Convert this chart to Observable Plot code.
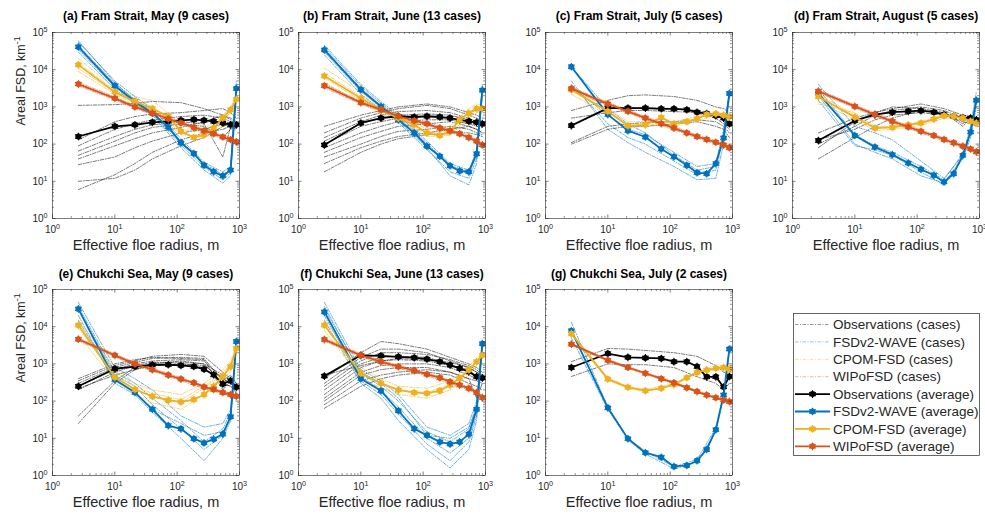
<!DOCTYPE html>
<html><head><meta charset="utf-8">
<script src="https://cdn.jsdelivr.net/npm/d3@7"></script>
<script src="https://cdn.jsdelivr.net/npm/@observablehq/plot@0.6"></script>
<style>
body{margin:0;background:#fff;}
#chart{position:relative;width:985px;height:514px;overflow:hidden;font-family:"Liberation Sans",Arial,sans-serif;}
#chart svg{position:absolute;overflow:visible;}
</style></head><body><div id="chart"></div>
<script>
// ---------- data ----------
const radii = [2.6, 10, 21, 40, 72, 115, 185, 270, 385, 540, 720, 890];
const caseRadii = [2.6, 10, 21, 40, 115, 270, 540, 720, 890];
const panelTitles = ["(a) Fram Strait, May (9 cases)", "(b) Fram Strait, June (13 cases)", "(c) Fram Strait, July (5 cases)", "(d) Fram Strait, August (5 cases)", "(e) Chukchi Sea, May (9 cases)", "(f) Chukchi Sea, June (13 cases)", "(g) Chukchi Sea, July (2 cases)"];
const seriesNames = ["Observations", "FSDv2-WAVE", "CPOM-FSD", "WIPoFSD"];
const xTickValues = [1, 10, 100, 1000];
const yTickValues = [1, 10, 100, 1000, 10000, 100000];
const xLabel = "Effective floe radius, m";
const yLabel = "Areal FSD, km^-1";

const obsAvg = [
  [160, 300, 330, 385, 410, 435, 455, 435, 410, 370, 330, 330],
  [95, 370, 500, 560, 535, 560, 535, 500, 450, 410, 385, 355],
  [315, 930, 930, 930, 890, 890, 840, 720, 660, 580, 500, 355],
  [125, 425, 620, 720, 760, 790, 720, 620, 560, 520, 500, 450],
  [250, 740, 850, 950, 950, 910, 850, 720, 510, 290, 355, 240],
  [470, 1700, 1650, 1550, 1470, 1350, 1150, 930, 760, 620, 455, 420],
  [800, 1900, 1500, 1450, 1400, 1150, 1150, 850, 450, 450, 240, 460]
];
const blueAvg = [
  [41000, 3700, 1400, 680, 290, 108, 56, 27, 18, 14, 20, 3100],
  [34000, 2900, 1030, 450, 200, 88, 47, 26, 19, 18, 55, 2800],
  [12000, 620, 230, 155, 74, 46, 27, 17, 16, 30, 147, 2300],
  [2300, 170, 83, 52, 31, 21, 14.5, 9.6, 16, 50, 210, 1500],
  [30000, 380, 170, 60, 22, 18, 9.8, 7.5, 9.5, 13, 38, 4000],
  [25000, 400, 190, 55, 18, 12, 8, 7, 8, 13, 60, 3500],
  [7800, 66, 9.8, 4.1, 3.1, 1.75, 1.86, 2.5, 5.0, 17, 146, 2500]
];
const orangeAvg = [
  [13500, 2500, 1400, 900, 560, 220, 150, 180, 270, 500, 840, 1600],
  [6800, 1700, 840, 500, 330, 200, 170, 220, 450, 680, 890, 900],
  [2900, 760, 310, 330, 520, 350, 400, 480, 620, 650, 600, 540],
  [1900, 530, 270, 280, 330, 370, 470, 580, 560, 500, 410, 370],
  [11000, 440, 205, 135, 106, 95, 110, 150, 250, 460, 850, 2600],
  [11000, 560, 300, 200, 170, 162, 190, 270, 410, 690, 1150, 1700],
  [6500, 390, 235, 190, 220, 280, 425, 590, 690, 760, 800, 730]
];
const redAvg = [
  [4100, 1700, 1000, 680, 480, 370, 280, 230, 190, 155, 133, 115],
  [3700, 1300, 840, 560, 425, 350, 270, 230, 190, 150, 120, 95],
  [3100, 1200, 760, 500, 355, 270, 200, 160, 133, 112, 95, 80],
  [2650, 1030, 620, 410, 290, 220, 170, 133, 108, 88, 74, 62],
  [4600, 1700, 1000, 700, 500, 390, 310, 240, 205, 170, 150, 135],
  [4500, 1700, 1150, 840, 660, 525, 425, 330, 270, 220, 170, 125],
  [3400, 1250, 800, 560, 400, 310, 230, 180, 145, 123, 107, 97]
];

const obsCases = [
  [[1100,1150,1250,1400,1300,900,600,450,350],[130,400,550,650,700,800,900,700,500],[90,250,350,450,550,600,500,400,300],[65,160,250,330,400,350,45,300,250],[50,120,200,280,350,300,150,250,300],[40,90,140,200,280,400,600,500,400],[28,45,80,120,200,250,350,400,380],[10,12,20,40,90,150,300,350,330],[6,15,30,60,130,200,250,300,280]],
  [[300,600,800,1000,1200,1000,700,600,500],[200,500,700,900,1100,900,600,500,400],[150,400,600,750,800,700,500,400,350],[120,350,500,600,650,600,450,380,300],[100,300,400,500,550,500,400,350,300],[80,200,300,400,450,450,350,300,280],[60,150,220,300,350,400,300,250,200],[45,100,160,220,250,300,250,200,180],[30,80,120,160,200,250,300,250,200],[18,60,100,140,180,200,200,180,160]],
  [[800,1500,2000,2100,1900,1500,1000,900,700],[300,900,950,950,900,800,600,500,300],[500,700,800,800,750,700,500,350,250],[110,300,350,380,400,450,400,300,200],[100,250,300,300,350,400,300,250,150]],
  [[40,150,300,500,800,700,300,500,400],[100,300,600,800,1000,800,500,450,400],[200,500,700,900,1200,900,600,550,450],[130,250,450,600,700,600,400,350,300],[80,400,700,1000,900,700,350,600,500]],
  [[25,300,700,1000,1200,1000,300,250,200],[40,350,800,900,1000,900,400,300,250],[200,600,900,1100,1100,1000,500,350,250],[250,700,1000,1200,1300,1200,400,300,200],[300,800,1100,1400,1500,1400,350,500,300],[350,900,1200,1600,1800,1600,600,400,300],[400,1000,1300,1500,1400,1300,200,350,150],[220,500,700,900,1000,800,300,250,180]],
  [[400,2000,4000,3500,2500,1500,1000,800,600],[300,1500,2500,2500,2000,1200,800,600,500],[250,1200,2000,2000,1800,1300,900,700,500],[200,1000,1500,1600,1500,1000,600,500,400],[150,800,1200,1300,1200,900,700,450,400],[120,600,900,1000,1000,800,500,400,350],[100,500,700,800,800,600,400,120,300],[80,350,500,600,700,600,400,350,300],[64,250,400,500,600,500,300,250,200],[500,900,1200,1400,1300,1100,800,600,450]],
  [[1150,2600,2500,2300,2000,1600,900,600,550],[460,1000,950,950,800,450,300,200,300]]
];
const blueCases = [
  [[55000,5000,1900,900,140,32,18,25,5000],[30000,3000,1200,600,80,20,9,14,1800],[45000,4200,1600,750,120,30,15,22,3500],[35000,3400,1300,650,95,24,11,17,2500],[60000,4500,1500,700,110,28,13,19,4000]],
  [[45000,4000,1400,600,120,30,20,60,4000],[25000,2200,850,380,70,18,12,40,2000],[35000,3200,1100,500,95,24,16,50,3000],[30000,2600,950,420,80,14,8,30,2500],[40000,3600,1250,550,105,27,18,70,3500]],
  [[12000,900,350,200,50,20,25,200,2500],[4000,350,150,100,35,15,20,150,2000],[5000,250,110,60,25,11,12,100,1800],[3500,600,250,180,60,25,30,250,2300]],
  [[4000,300,200,130,35,12,50,300,2500],[2000,100,60,40,14,9,45,200,1200],[1500,90,70,50,18,8,40,150,1000],[3000,180,90,60,25,11,55,250,1800]],
  [[45000,800,400,200,40,20,25,60,4000],[20000,300,150,50,10,2.5,10,30,3000],[30000,500,250,80,18,5,12,40,3500],[15000,350,180,60,25,12,15,35,3200],[35000,600,300,120,30,8,18,50,3800]],
  [[45000,700,350,150,20,12,25,100,4000],[15000,300,120,30,5,1.6,5,30,3000],[25000,450,200,70,10,4,10,50,3500],[35000,550,250,100,15,8,18,80,3800],[20000,350,150,45,7,2.5,8,40,3200],[30000,600,300,120,12,10,20,60,3600]],
  [[13000,70,10,4.5,1.7,2.7,19,150,2600],[5000,60,9,3.8,1.5,2.3,15,130,2200]]
];
const orangeCases = [
  [[20000,3200,1900,1500,350,250,600,1000,2000],[9000,2200,1200,800,180,160,450,700,1300],[15000,2800,1500,1000,250,200,550,900,1700],[11000,2400,1300,900,200,140,380,750,1400]],
  [[11000,2500,1100,700,250,300,900,1200,1100],[4500,1300,650,420,160,170,500,700,750],[8000,1900,900,550,200,230,700,950,950],[6000,1500,750,480,180,180,600,850,900]],
  [[3500,900,400,400,400,550,700,650,550],[2200,600,280,300,350,420,600,550,500],[2800,700,320,350,300,500,680,620,580]],
  [[2200,600,280,300,400,620,540,450,400],[1400,450,230,250,320,500,460,380,330],[1200,700,300,280,350,560,500,420,360]],
  [[15000,800,300,200,150,300,700,1200,3000],[6000,350,150,90,60,150,400,600,2000],[9000,500,200,130,90,220,550,900,2500],[12000,650,250,160,110,250,600,1000,2800]],
  [[15000,800,400,250,220,350,900,1400,2000],[8000,400,230,150,120,200,500,900,1400],[11000,600,300,200,170,280,700,1100,1700]],
  [[7000,420,250,200,300,620,800,850,780],[6000,370,220,180,270,560,720,760,700]]
];
const redCases = [
  [[4600,1850,1100,740,400,250,170,145,125],[3700,1550,920,620,340,210,140,120,105]],
  [[4100,1420,920,610,380,250,165,130,105],[3300,1190,770,510,320,210,137,110,87]],
  [[3400,1320,830,550,295,175,123,104,88],[2800,1090,690,455,245,146,102,86,73]],
  [[2900,1130,680,450,240,146,97,81,68],[2400,940,565,375,200,121,80,67,56]],
  [[5000,1860,1090,760,425,262,185,164,147],[4200,1550,910,640,355,218,155,137,123]],
  [[4900,1860,1250,915,570,360,240,185,136],[4100,1550,1050,765,480,300,200,155,114]],
  [[3600,1320,850,590,330,190,130,113,103],[3200,1180,755,530,292,170,116,101,92]]
];

// ---------- style / layout ----------
const COLORS = ["#000000", "#0072BD", "#EDB120", "#D95319"];
const AX = "#262626";
const FONT = '"Liberation Sans", Arial, Helvetica, sans-serif';
const svgLeft = [0, 246, 493, 740];
const svgTop = [0, 257];
const PW = 187, PH = 186, ML = 52, MR = 5, MT = 32;

const avgRows = arr => radii.map((r, i) => ({r, v: arr[i]}));
const caseRows = cases => cases.flatMap((c, k) => caseRadii.map((r, i) => ({r, v: c[i], k})));

const logTicks = (lo, hi) => d3.scaleLog().domain([lo, hi]).ticks().filter(t => !xTickValues.concat(yTickValues).includes(t));
const xMinor = logTicks(1, 1000);
const yMinor = logTicks(1, 100000);
const expFmt = d => "10^" + Math.round(Math.log10(d));

function superscripts(svg) {
  d3.select(svg).selectAll("text").each(function () {
    const s = this.textContent;
    const k = s.indexOf("^");
    if (k < 0) return;
    const sel = d3.select(this);
    sel.text(null);
    sel.append("tspan").text(s.slice(0, k));
    sel.append("tspan").attr("dy", "-0.45em").attr("font-size", "0.72em").text(s.slice(k + 1));
  });
}

const chart = document.getElementById("chart");

for (let i = 0; i < 7; i++) {
  const col = i % 4, row = Math.floor(i / 4);
  const MB = row === 0 ? 40 : 39;
  const marks = [];
  const caseSets = [obsCases[i], blueCases[i], orangeCases[i], redCases[i]];
  caseSets.forEach((cs, s) => {
    marks.push(Plot.line(caseRows(cs), {x: "r", y: "v", z: "k", stroke: COLORS[s], strokeWidth: 0.7, strokeOpacity: s === 0 ? 0.75 : 0.8, strokeDasharray: "3.5,1.5,1,1.5"}));
  });
  [obsAvg[i], blueAvg[i], orangeAvg[i], redAvg[i]].forEach((arr, s) => {
    const rows = avgRows(arr);
    marks.push(Plot.line(rows, {x: "r", y: "v", stroke: COLORS[s], strokeWidth: 1.8}));
    marks.push(Plot.dot(rows, {x: "r", y: "v", r: 3, fill: COLORS[s]}));
    marks.push(Plot.dot(rows, {x: "r", y: "v", r: 3.6, symbol: "asterisk", stroke: COLORS[s], strokeWidth: 1.1}));
  });
  // frame and inward ticks
  marks.push(Plot.frame({stroke: AX, strokeWidth: 0.6}));
  marks.push(Plot.tickX(xTickValues, {x: d => d, insetTop: PH - 3.5, stroke: AX, strokeWidth: 0.6}));
  marks.push(Plot.tickX(xTickValues, {x: d => d, insetBottom: PH - 3.5, stroke: AX, strokeWidth: 0.6}));
  marks.push(Plot.tickX(xMinor, {x: d => d, insetTop: PH - 2, stroke: AX, strokeWidth: 0.5}));
  marks.push(Plot.tickX(xMinor, {x: d => d, insetBottom: PH - 2, stroke: AX, strokeWidth: 0.5}));
  marks.push(Plot.tickY(yTickValues, {y: d => d, insetRight: PW - 3.5, stroke: AX, strokeWidth: 0.6}));
  marks.push(Plot.tickY(yTickValues, {y: d => d, insetLeft: PW - 3.5, stroke: AX, strokeWidth: 0.6}));
  marks.push(Plot.tickY(yMinor, {y: d => d, insetRight: PW - 2, stroke: AX, strokeWidth: 0.5}));
  marks.push(Plot.tickY(yMinor, {y: d => d, insetLeft: PW - 2, stroke: AX, strokeWidth: 0.5}));
  // tick labels
  marks.push(Plot.axisX(xTickValues, {tickSize: 0, tickPadding: 7, tickFormat: expFmt, label: null, fontSize: 10, fill: AX}));
  marks.push(Plot.axisY(yTickValues, {tickSize: 0, tickPadding: 5, tickFormat: expFmt, label: null, fontSize: 10, fill: AX}));
  // texts
  marks.push(Plot.text([panelTitles[i]], {text: d => d, frameAnchor: "top", dy: row === 0 ? -16 : -15, lineAnchor: "middle", fontWeight: "bold", fontSize: 12, fill: "#000"}));
  marks.push(Plot.text([xLabel], {text: d => d, frameAnchor: "bottom", dy: 27, lineAnchor: "middle", fontSize: 14.5, fill: AX}));
  if (col === 0) {
    marks.push(Plot.text([yLabel], {text: d => d, frameAnchor: "left", dx: -32, rotate: -90, lineAnchor: "middle", fontSize: 12.5, fill: AX}));
  }
  const svg = Plot.plot({
    width: ML + PW + MR, height: MT + PH + MB,
    marginLeft: ML, marginRight: MR, marginTop: MT, marginBottom: MB,
    x: {type: "log", domain: [1, 1000]},
    y: {type: "log", domain: [1, 100000]},
    style: {fontFamily: FONT, background: "transparent", overflow: "visible"},
    marks
  });
  superscripts(svg);
  svg.style.left = svgLeft[col] + "px";
  svg.style.top = svgTop[row] + "px";
  chart.appendChild(svg);
}

// ---------- legend ----------
(function legend() {
  const L = {x: 793, y: 313, w: 187, h: 143};
  const svg = d3.create("svg").attr("width", L.w).attr("height", L.h)
    .style("left", L.x + "px").style("top", L.y + "px").style("font-family", FONT);
  svg.append("rect").attr("x", 0.5).attr("y", 0.5).attr("width", L.w - 1).attr("height", L.h - 1)
    .attr("fill", "#fff").attr("stroke", AX).attr("stroke-width", 0.7);
  const items = [];
  seriesNames.forEach((n, s) => items.push({label: n + " (cases)", s, avg: false}));
  seriesNames.forEach((n, s) => items.push({label: n + " (average)", s, avg: true}));
  items.forEach((it, i) => {
    const y = 11.5 + i * 17.4;
    const c = COLORS[it.s];
    svg.append("line").attr("x1", 2).attr("x2", 37).attr("y1", y).attr("y2", y)
      .attr("stroke", c).attr("stroke-width", it.avg ? 1.8 : 0.7)
      .attr("stroke-opacity", it.avg ? 1 : 0.6)
      .attr("stroke-dasharray", it.avg ? null : "3.5,1.5,1,1.5");
    if (it.avg) {
      svg.append("circle").attr("cx", 19.5).attr("cy", y).attr("r", 3).attr("fill", c);
      svg.append("path").attr("d", d3.symbol(d3.symbolAsterisk, 3.6 * 3.6 * Math.PI)()).attr("transform", `translate(19.5,${y})`).attr("stroke", c).attr("stroke-width", 1.1).attr("fill", "none");
    }
    svg.append("text").attr("x", 40).attr("y", y).attr("dy", "0.35em").attr("font-size", 13.5).attr("fill", AX).text(it.label);
  });
  chart.appendChild(svg.node());
})();
</script></body></html>
